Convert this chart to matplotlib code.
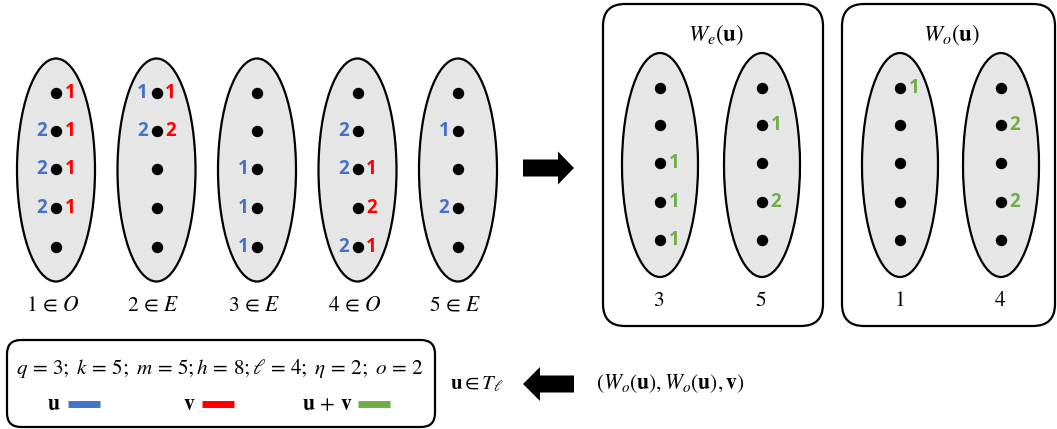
import matplotlib
matplotlib.use("Agg")
from matplotlib import pyplot as plt
from matplotlib.patches import Ellipse, FancyBboxPatch, FancyArrow

plt.rcParams['mathtext.fontset'] = 'stix'

# donnees : une liste de 5 valeurs (haut -> bas) par ellipse, None = rien d'affiche
groups = ["1", "2", "3", "4", "5"]
group_sets = ["O", "E", "E", "O", "E"]
u_vals = [
    [None, 2, 2, 2, None],
    [1, 2, None, None, None],
    [None, None, 1, 1, 1],
    [None, 2, 2, None, 2],
    [None, 1, None, 2, None],
]
v_vals = [
    [1, 1, 1, 1, None],
    [1, 2, None, None, None],
    [None, None, None, None, None],
    [None, None, 1, 2, 1],
    [None, None, None, None, None],
]
we_groups = ["3", "5"]
we_vals = [
    [None, None, 1, 1, 1],
    [None, 1, None, 2, None],
]
wo_groups = ["1", "4"]
wo_vals = [
    [1, None, None, None, None],
    [None, 2, None, 2, None],
]
params_text = r"$q\,=\,3;\ k\,=\,5;\ m\,=\,5; h\,=\,8; \ell\,=\,4;\ \eta\,=\,2;\ o\,=\,2$"
legend_labels = [r"$\mathbf{u}$", r"$\mathbf{v}$", r"$\mathbf{u}\,+\,\mathbf{v}$"]

BLUE = "#4472C4"
RED = "#FF0000"
GREEN = "#70AD47"
GREY = "#E7E6E6"
FS = 15.5

fig = plt.figure(figsize=(10.57, 4.29), dpi=100)
ax = fig.add_axes([0, 0, 1, 1])
ax.set_xlim(0, 1057)
ax.set_ylim(429, 0)
ax.axis("off")


def draw_group(cx, cy, w, h, dot_ys, left=None, right=None, lcol=BLUE, rcol=RED):
    ax.add_patch(Ellipse((cx, cy), w, h, facecolor=GREY, edgecolor="black", lw=1.6, zorder=1))
    ax.plot([cx] * len(dot_ys), dot_ys, "o", color="black", ms=7.2, zorder=3)
    for i, y in enumerate(dot_ys):
        if left is not None and left[i] is not None:
            ax.text(cx - 14, y, str(left[i]), color=lcol, fontsize=13.5, fontweight="bold",
                    ha="center", va="center", family="Open Sans")
        if right is not None and right[i] is not None:
            ax.text(cx + 14, y, str(right[i]), color=rcol, fontsize=13.5, fontweight="bold",
                    ha="center", va="center", family="Open Sans")


# partie gauche : les 5 ellipses
dots_left = [93, 131, 169, 208, 247]
for i in range(len(groups)):
    cx = 55 + 100.5 * i
    draw_group(cx + 1, 170, 78, 223, dots_left, u_vals[i], v_vals[i])
    ax.text(cx - 2, 305, r"$%s\,\in\,%s$" % (groups[i], group_sets[i]), fontsize=FS,
            ha="center", va="center")

# fleche droite
ax.add_patch(FancyArrow(523, 168, 51, 0, width=17, head_width=33, head_length=16,
                        length_includes_head=True, color="black", lw=0))

# boites W_e et W_o
dots_right = [88, 125, 163, 202, 240]
boxes = [
    (603, 823, r"$W_e(\mathbf{u})$", we_groups, we_vals, [660, 762]),
    (842, 1055, r"$W_o(\mathbf{u})$", wo_groups, wo_vals, [900, 1001]),
]
for x0, x1, title, names, vals, cxs in boxes:
    ax.add_patch(FancyBboxPatch((x0, 4), x1 - x0, 322, boxstyle="round,pad=0,rounding_size=22",
                                facecolor="white", edgecolor="black", lw=1.6, zorder=0))
    ax.text((x0 + x1) / 2 + 3, 35, title, fontsize=FS + 1, ha="center", va="center")
    for j in range(2):
        draw_group(cxs[j], 165, 76, 224, dots_right, right=vals[j], rcol=GREEN)
        ax.text(cxs[j] - 1, 300, r"$%s$" % names[j], fontsize=FS, ha="center", va="center")

# boite des parametres
ax.add_patch(FancyBboxPatch((7, 340), 428, 87, boxstyle="round,pad=0,rounding_size=14",
                            facecolor="white", edgecolor="black", lw=1.6, zorder=0))
ax.text(220, 368, params_text, fontsize=FS - 0.3, ha="center", va="center")
leg_x = [54, 189, 327]
bar_x = [68, 202, 358]
leg_colors = [BLUE, RED, GREEN]
for i in range(3):
    ax.text(leg_x[i], 404, legend_labels[i], fontsize=FS, ha="center", va="center")
    ax.plot([bar_x[i], bar_x[i] + 32], [404, 404], color=leg_colors[i], lw=5, solid_capstyle="butt")

# fleche gauche
ax.text(477, 384, r"$\mathbf{u} \in T_\ell$", fontsize=FS - 0.5, ha="center", va="center")
ax.add_patch(FancyArrow(574, 384, -51, 0, width=17, head_width=34, head_length=17,
                        length_includes_head=True, color="black", lw=0))
ax.text(670, 384, r"$(W_o(\mathbf{u}), W_o(\mathbf{u}), \mathbf{v})$", fontsize=FS,
        ha="center", va="center")

fig.savefig("out.png", dpi=100)
